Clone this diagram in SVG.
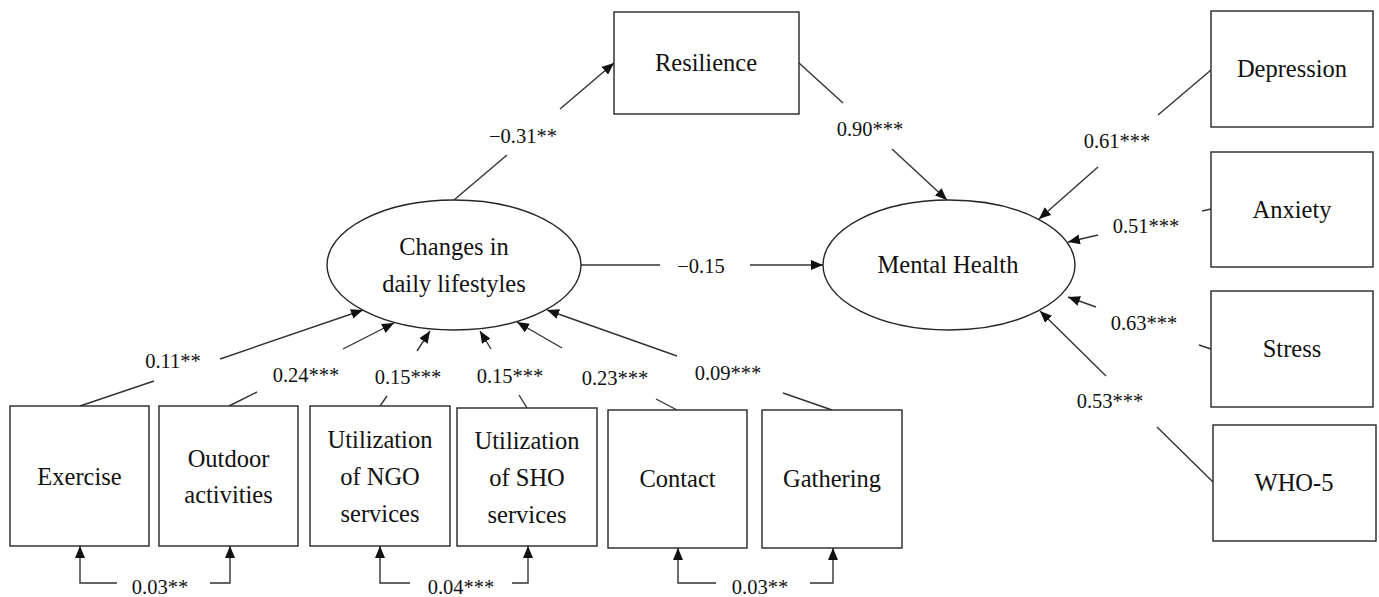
<svg xmlns="http://www.w3.org/2000/svg" width="1379" height="597" viewBox="0 0 1379 597">
<style>
.box{fill:#fff;stroke:#262626;stroke-width:1.4}
.t{font-family:"Liberation Serif","Times New Roman",serif;font-size:24.5px;fill:#111;text-anchor:middle}
.l{font-family:"Liberation Serif","Times New Roman",serif;font-size:20.5px;fill:#111;text-anchor:middle}
.c{fill:none;stroke:#333;stroke-width:1.4}
.a{fill:none;stroke:#333;stroke-width:1.4;marker-end:url(#ah)}
</style>
<defs>
<marker id="ah" viewBox="0 0 12 10" refX="12" refY="5" markerWidth="12" markerHeight="10" markerUnits="userSpaceOnUse" orient="auto">
<path d="M0,0 L12,5 L0,10 z" fill="#111"/>
</marker>
</defs>
<rect width="1379" height="597" fill="#fff"/>
<g id="connectors">
<line class="c" x1="454" y1="200" x2="507" y2="155"/><line class="a" x1="560" y1="109" x2="614" y2="63"/>
<line class="c" x1="799" y1="63" x2="843" y2="103"/><line class="a" x1="892" y1="149" x2="947" y2="200"/>
<line class="c" x1="581" y1="265" x2="660" y2="265"/><line class="a" x1="750" y1="265" x2="823" y2="265"/>
<line class="c" x1="1211" y1="70" x2="1158" y2="115"/><line class="a" x1="1098" y1="167" x2="1039" y2="219"/>
<line class="c" x1="1211" y1="209" x2="1202" y2="211"/><line class="a" x1="1098" y1="235" x2="1068" y2="242"/>
<line class="c" x1="1211" y1="349" x2="1199" y2="345"/><line class="a" x1="1096" y1="307" x2="1068" y2="297"/>
<line class="c" x1="1213" y1="482" x2="1157" y2="427"/><line class="a" x1="1106" y1="376" x2="1040" y2="311"/>
<line class="c" x1="80" y1="406" x2="154" y2="381"/><line class="a" x1="220" y1="359" x2="363" y2="310"/>
<line class="c" x1="229" y1="406" x2="257" y2="392"/><line class="a" x1="343" y1="349" x2="394" y2="323"/>
<line class="c" x1="380" y1="406" x2="387" y2="396"/><line class="a" x1="417" y1="351" x2="430" y2="331"/>
<line class="c" x1="527" y1="408" x2="519" y2="395"/><line class="a" x1="491" y1="349" x2="480" y2="331"/>
<line class="c" x1="677" y1="410" x2="656" y2="399"/><line class="a" x1="562" y1="348" x2="517" y2="322"/>
<line class="c" x1="832" y1="410" x2="783" y2="393"/><line class="a" x1="677" y1="356" x2="547" y2="310"/>
<polyline class="a" points="117,583 80,583 80,546"/><polyline class="a" points="210,583 230,583 230,546"/>
<polyline class="a" points="410,583 380,583 380,546"/><polyline class="a" points="512,583 528,583 528,546"/>
<polyline class="a" points="716,583 678,583 678,548"/><polyline class="a" points="810,583 833,583 833,548"/>
<text class="l" x="523" y="143">−0.31**</text>
<text class="l" x="870" y="136">0.90***</text>
<text class="l" x="701" y="273">−0.15</text>
<text class="l" x="1117" y="148">0.61***</text>
<text class="l" x="1146" y="233">0.51***</text>
<text class="l" x="1144" y="330">0.63***</text>
<text class="l" x="1110" y="408">0.53***</text>
<text class="l" x="173" y="368">0.11**</text>
<text class="l" x="306" y="382">0.24***</text>
<text class="l" x="408" y="384">0.15***</text>
<text class="l" x="510" y="383">0.15***</text>
<text class="l" x="615" y="385">0.23***</text>
<text class="l" x="728" y="380">0.09***</text>
<text class="l" x="160" y="594">0.03**</text>
<text class="l" x="461" y="594">0.04***</text>
<text class="l" x="760" y="594">0.03**</text>
</g>
<g id="resilience"><rect class="box" x="614" y="12" width="185" height="102"/><text class="t" x="706" y="71">Resilience</text></g>
<g id="changes"><ellipse class="box" cx="454" cy="265" rx="127" ry="65"/><text class="t" x="454" y="255">Changes in</text><text class="t" x="454" y="292">daily lifestyles</text></g>
<g id="mental-health"><ellipse class="box" cx="949" cy="265" rx="126" ry="65"/><text class="t" x="948" y="273">Mental Health</text></g>
<g id="depression"><rect class="box" x="1211" y="11" width="162" height="116"/><text class="t" x="1292" y="77">Depression</text></g>
<g id="anxiety"><rect class="box" x="1211" y="152" width="162" height="115"/><text class="t" x="1292" y="218">Anxiety</text></g>
<g id="stress"><rect class="box" x="1211" y="291" width="162" height="116"/><text class="t" x="1292" y="357">Stress</text></g>
<g id="who5"><rect class="box" x="1213" y="425" width="163" height="116"/><text class="t" x="1294" y="491">WHO-5</text></g>
<g id="exercise"><rect class="box" x="10" y="406" width="139" height="140"/><text class="t" x="79.5" y="485">Exercise</text></g>
<g id="outdoor"><rect class="box" x="159" y="406" width="139" height="140"/><text class="t" x="228.5" y="467">Outdoor</text><text class="t" x="228.5" y="503">activities</text></g>
<g id="ngo"><rect class="box" x="310" y="406" width="140" height="140"/><text class="t" x="380" y="448">Utilization</text><text class="t" x="380" y="485">of NGO</text><text class="t" x="380" y="522">services</text></g>
<g id="sho"><rect class="box" x="457" y="408" width="140" height="138"/><text class="t" x="527" y="449">Utilization</text><text class="t" x="527" y="486">of SHO</text><text class="t" x="527" y="523">services</text></g>
<g id="contact"><rect class="box" x="608" y="410" width="139" height="138"/><text class="t" x="677.5" y="487">Contact</text></g>
<g id="gathering"><rect class="box" x="762" y="410" width="140" height="138"/><text class="t" x="832" y="487">Gathering</text></g>
</svg>
